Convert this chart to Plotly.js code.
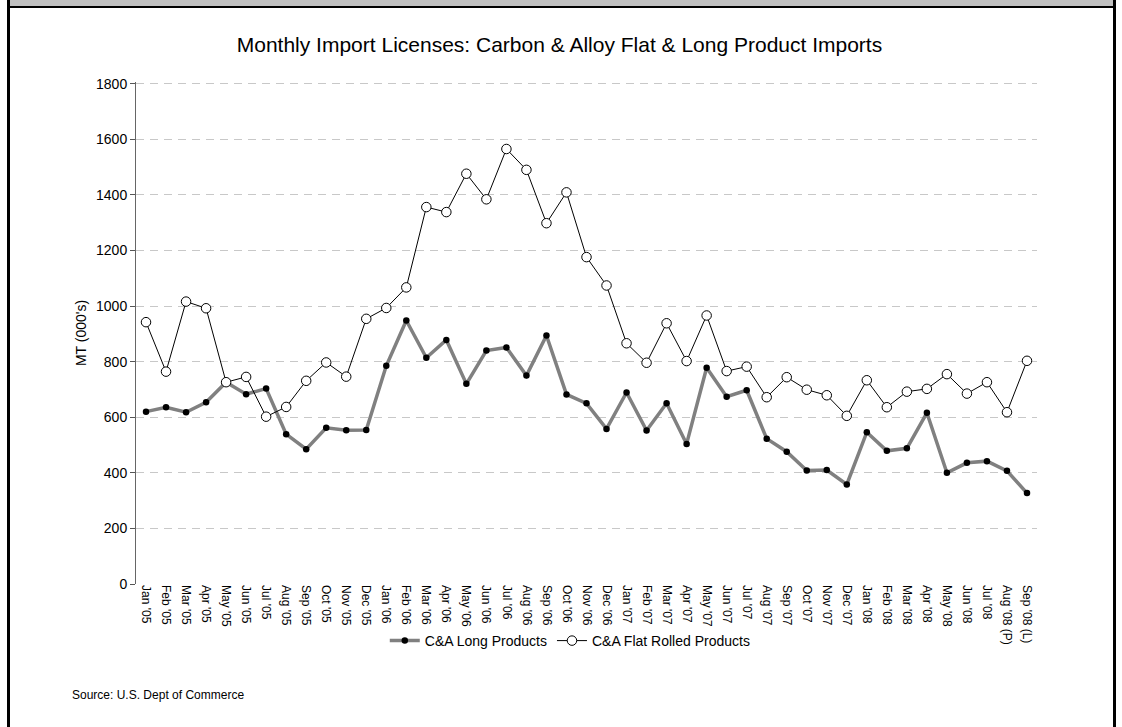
<!DOCTYPE html>
<html>
<head>
<meta charset="utf-8">
<script src="https://cdn.plot.ly/plotly-3.0.1.min.js"></script>
<style>
  html, body { margin: 0; padding: 0; background: #fff; }
  #wrap { position: relative; width: 1122px; height: 727px; overflow: hidden; }
  #chart { position: absolute; left: 0; top: 0; width: 1122px; height: 727px; }
  .frame { position: absolute; pointer-events: none; }
</style>
</head>
<body>
<div id="wrap">
  <div id="chart"></div>
  <div class="frame" style="left:9px;top:0;width:1105px;height:6px;background:#c0c0c0;"></div>
  <div class="frame" style="left:7px;top:6px;width:1109px;height:2px;background:#000;"></div>
  <div class="frame" style="left:7px;top:0;width:3px;height:727px;background:#000;"></div>
  <div class="frame" style="left:1113px;top:0;width:3px;height:727px;background:#000;"></div>
</div>
<script>
const categories = [
  "Jan '05","Feb '05","Mar '05","Apr '05","May '05","Jun '05","Jul '05","Aug '05","Sep '05","Oct '05","Nov '05","Dec '05",
  "Jan '06","Feb '06","Mar '06","Apr '06","May '06","Jun '06","Jul '06","Aug '06","Sep '06","Oct '06","Nov '06","Dec '06",
  "Jan '07","Feb '07","Mar '07","Apr '07","May '07","Jun '07","Jul '07","Aug '07","Sep '07","Oct '07","Nov '07","Dec '07",
  "Jan '08","Feb '08","Mar '08","Apr '08","May '08","Jun '08","Jul '08","Aug '08 (P)","Sep '08 (L)"
];

const longProducts = [
  620,636,618,654,726,683,703,539,485,562,553,554,
  785,948,814,878,720,840,851,750,894,682,650,558,
  689,552,650,504,778,674,697,523,476,408,410,358,
  546,479,488,616,400,436,442,407,327
];

const flatRolled = [
  942,764,1016,992,726,745,602,637,731,797,746,954,
  993,1067,1356,1338,1476,1384,1565,1490,1298,1409,1176,1074,
  866,796,938,802,966,766,782,672,744,699,679,605,
  733,636,692,702,755,685,726,618,803
];

const yTicks = [0,200,400,600,800,1000,1200,1400,1600,1800];

const FONT = '"Liberation Sans", Arial, Helvetica, sans-serif';

const traces = [
  {
    x: categories, y: longProducts, name: 'C&A Long Products',
    type: 'scatter', mode: 'lines+markers',
    line: { color: '#808080', width: 3.5 },
    marker: { color: '#000000', size: 6.5, line: { width: 0 } }
  },
  {
    x: categories, y: flatRolled, name: 'C&A Flat Rolled Products',
    type: 'scatter', mode: 'lines+markers',
    line: { color: '#000000', width: 1 },
    marker: { color: '#ffffff', size: 9.5, line: { color: '#000000', width: 1 } }
  }
];

const layout = {
  width: 1122, height: 727,
  margin: { l: 136, r: 85, t: 82, b: 143 },
  paper_bgcolor: 'rgba(0,0,0,0)',
  plot_bgcolor: '#ffffff',
  font: { family: FONT, color: '#000000', size: 13 },
  showlegend: true,
  title: {
    text: 'Monthly Import Licenses: Carbon & Alloy Flat & Long Product Imports',
    font: { family: FONT, size: 21, color: '#000000' },
    xref: 'paper', x: 0.47, xanchor: 'center',
    yref: 'container', y: 1 - 45/727, yanchor: 'middle'
  },
  xaxis: {
    type: 'category',
    range: [-0.5, 44.5],
    tickangle: 90,
    tickfont: { family: FONT, size: 12, color: '#000000' },
    showline: false, showgrid: false, zeroline: false,
    ticks: '', automargin: false
  },
  yaxis: {
    range: [0, 1806],
    tickvals: yTicks,
    ticktext: yTicks.map(String),
    tickfont: { family: FONT, size: 14, color: '#000000' },
    ticks: 'outside', ticklen: 5, tickcolor: '#555555', tickwidth: 1,
    showline: true, linecolor: '#666666', linewidth: 1,
    showgrid: true, gridcolor: '#c8c8c8', griddash: '8px,6px', gridwidth: 1,
    zeroline: true, zerolinecolor: 'rgba(0,0,0,0)',
    automargin: false,
    title: { text: "MT (000's)", font: { family: FONT, size: 14, color: '#000000' }, standoff: 6 }
  },
  legend: {
    orientation: 'h',
    x: 0.482, xanchor: 'center',
    y: (584 - 641) / 502, yanchor: 'middle',
    font: { family: FONT, size: 14, color: '#000000' },
    bgcolor: 'rgba(0,0,0,0)'
  },
  annotations: [{
    text: 'Source: U.S. Dept of Commerce',
    xref: 'paper', yref: 'paper',
    x: (70 - 136) / 901, y: (584 - 695) / 502,
    xanchor: 'left', yanchor: 'middle',
    showarrow: false,
    font: { family: FONT, size: 12, color: '#000000' }
  }]
};

Plotly.newPlot('chart', traces, layout, { displayModeBar: false, staticPlot: true });
</script>
</body>
</html>
